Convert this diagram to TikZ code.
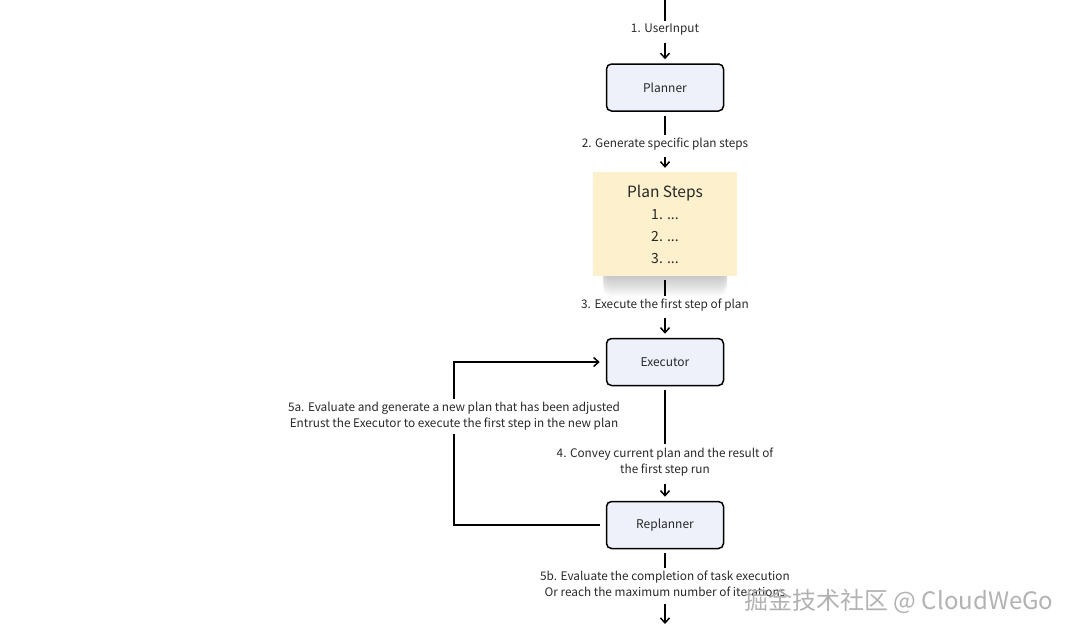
\documentclass[tikz,border=0pt]{standalone}
\usepackage{fontspec}
\setmainfont{Noto Sans CJK SC}
\usetikzlibrary{arrows.meta}
\definecolor{boxfill}{RGB}{238,241,250}
\definecolor{planfill}{RGB}{253,241,205}
\definecolor{ink}{RGB}{40,40,40}

\begin{document}
\begin{tikzpicture}[x=1pt,y=-1pt,
	box/.style={draw=black, line width=1.5pt, rounded corners=5pt, fill=boxfill,
		minimum width=117pt, minimum height=47pt, text=ink, font=\fontsize{12}{14}\selectfont},
	lbl/.style={inner sep=3pt, align=center, text=ink, font=\fontsize{11.8}{16.5}\selectfont},
	link/.style={line width=1.5pt, shorten <=4pt},
	arr/.style={link, -{Straight Barb[length=5pt,width=9pt]}, shorten >=4pt}]
	\useasboundingbox (0,0) rectangle (1080,635);

	% Sombra da caixa de passos
	\foreach \i in {1,...,10}
		\fill[black, opacity=0.025, rounded corners=8pt] (603,200) rectangle (727,276+2*\i);

	% Caixas
	\node[box] (planner) at (665,87.5) {Planner};
	\node[fill=planfill, minimum width=144pt, minimum height=104pt, text=ink,
		align=center, font=\fontsize{14}{22}\selectfont] (steps) at (665,224)
		{{\fontsize{15.5}{20}\selectfont Plan Steps}\\ 1. ...\\ 2. ...\\ 3. ...};
	\node[box] (executor) at (665,362) {Executor};
	\node[box] (replanner) at (665,525) {Replanner};

	% Rótulos
	\coordinate (in) at (665,0);
	\coordinate (out) at (665,624);
	\node[lbl] (l1) at (665,30) {1. UserInput};
	\node[lbl] (l2) at (665,144) {2. Generate specific plan steps};
	\node[lbl] (l3) at (665,305) {3. Execute the first step of plan};
	\node[lbl] (l4) at (665,462) {4. Convey current plan and the result of\\the first step run};
	\node[lbl] (l5a) at (454,416) {5a. Evaluate and generate a new plan that has been adjusted\\Entrust the Executor to execute the first step in the new plan};
	\node[lbl] (l5b) at (665,584) {5b. Evaluate the completion of task execution\\Or reach the maximum number of iterations};

	% Setas
	\draw[line width=1.5pt] (in) -- (l1);
	\draw[arr] (l1) -- (planner);
	\draw[link] (planner) -- (l2);
	\draw[arr] (l2) -- (steps);
	\draw[link] (steps) -- (l3);
	\draw[arr] (l3) -- (executor);
	\draw[link] (executor) -- (l4);
	\draw[arr] (l4) -- (replanner);
	\draw[link, shorten <=6pt] (replanner.west) -| (l5a.south);
	\draw[arr, shorten <=0pt, shorten >=6pt] (l5a.north) |- (executor.west);
	\draw[link] (replanner) -- (l5b);
	\draw[arr, shorten >=0pt] (l5b) -- (out);

	% Marca d'água
	\node[text=black!30, font=\fontsize{24}{28}\selectfont] (mark) at (899,601) {掘金技术社区 @ CloudWeGo};
\end{tikzpicture}
\end{document}
